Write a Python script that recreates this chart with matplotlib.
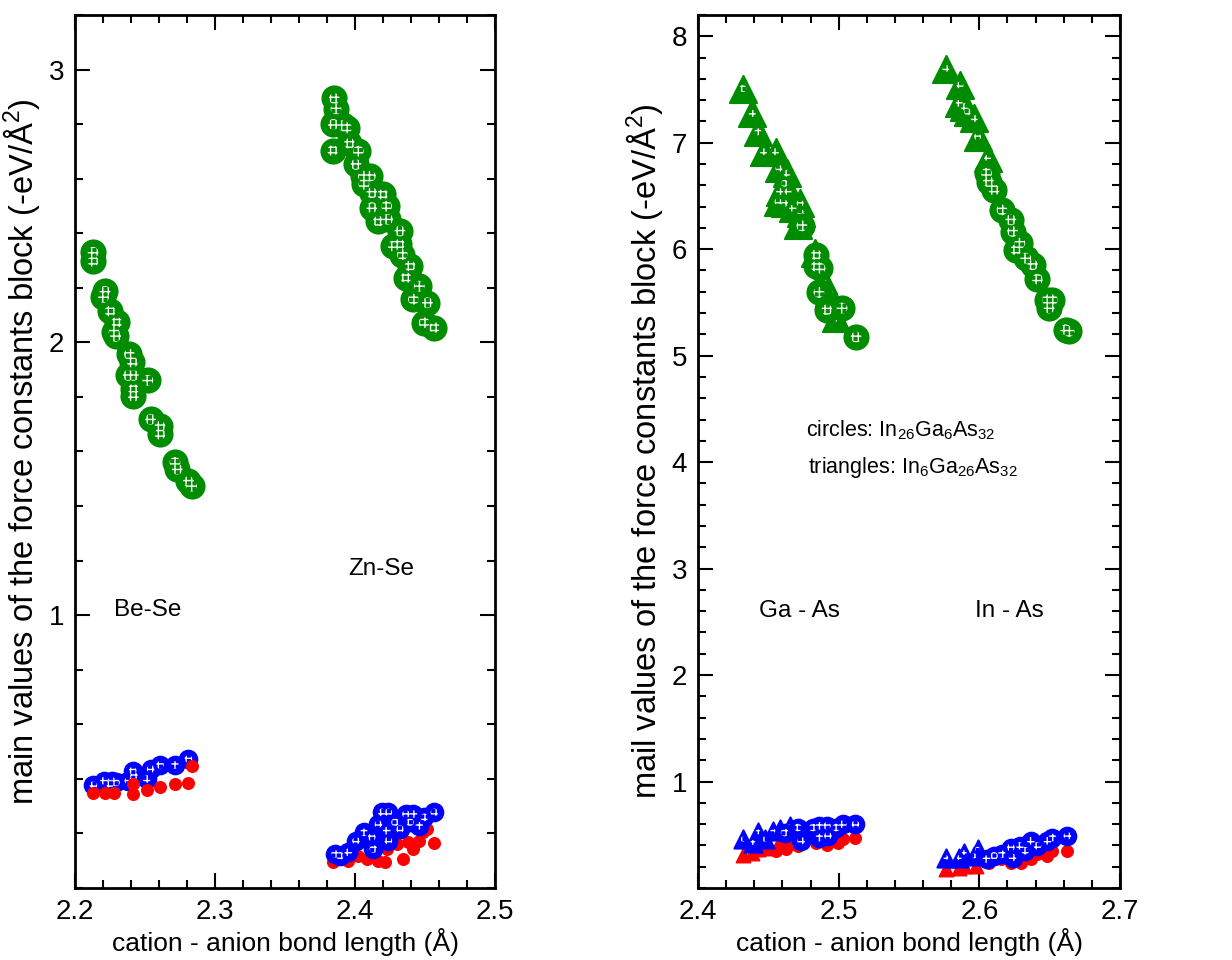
import numpy as np
import matplotlib
matplotlib.use('Agg')
import matplotlib.pyplot as plt
from matplotlib.ticker import MultipleLocator

plt.rcParams['font.family'] = ['Liberation Sans', 'DejaVu Sans']
plt.rcParams['mathtext.fontset'] = 'custom'
plt.rcParams['mathtext.rm'] = 'Liberation Sans'

GREEN = '#008c00'
BLUE = '#0000ff'
RED = '#ff0000'

# ---- left panel: Be-Se / Zn-Se ----
bese_green_x = [2.2129, 2.2129, 2.2214, 2.2203, 2.2250, 2.2298, 2.2279, 2.2290, 2.2388, 2.2410,
                2.2417, 2.2380, 2.2520, 2.2417, 2.2417, 2.2540, 2.2607, 2.2607, 2.2714, 2.2730,
                2.2810, 2.2833]
bese_green_y = [2.330, 2.297, 2.187, 2.165, 2.114, 2.073, 2.037, 2.022, 1.956, 1.927,
                1.879, 1.879, 1.861, 1.828, 1.802, 1.718, 1.692, 1.663, 1.560, 1.535,
                1.490, 1.473]
bese_blue_x = [2.2131, 2.2207, 2.2262, 2.2293, 2.2250, 2.2381, 2.2412, 2.2421, 2.2512, 2.2540,
               2.2607, 2.2714, 2.2810]
bese_blue_y = [0.377, 0.393, 0.393, 0.387, 0.381, 0.393, 0.430, 0.411, 0.399, 0.436,
               0.451, 0.451, 0.473]
bese_red_x = [2.2131, 2.2214, 2.2279, 2.2412, 2.2417, 2.2512, 2.2607, 2.2714, 2.2810, 2.2833]
bese_red_y = [0.350, 0.350, 0.350, 0.344, 0.381, 0.360, 0.369, 0.381, 0.385, 0.448]

znse_green_x = [2.3852, 2.3864, 2.3845, 2.3912, 2.3940, 2.3840, 2.3960, 2.4024, 2.4007, 2.4060,
                2.4110, 2.4064, 2.4120, 2.4198, 2.4120, 2.4226, 2.4167, 2.4233, 2.4321, 2.4274,
                2.4317, 2.4338, 2.4393, 2.4364, 2.4459, 2.4417, 2.4517, 2.4493, 2.4567]
znse_green_y = [2.894, 2.856, 2.799, 2.795, 2.786, 2.703, 2.729, 2.701, 2.652, 2.609,
                2.609, 2.579, 2.548, 2.542, 2.494, 2.499, 2.444, 2.451, 2.408, 2.353,
                2.359, 2.322, 2.280, 2.237, 2.206, 2.158, 2.145, 2.072, 2.054]
znse_blue_x = [2.3857, 2.3893, 2.3952, 2.4007, 2.4064, 2.4120, 2.4167, 2.4191, 2.4238, 2.4226,
               2.4286, 2.4321, 2.4364, 2.4417, 2.4393, 2.4459, 2.4495, 2.4567, 2.4238, 2.4131]
znse_blue_y = [0.125, 0.118, 0.131, 0.173, 0.204, 0.186, 0.234, 0.277, 0.277, 0.210,
               0.241, 0.216, 0.271, 0.271, 0.241, 0.228, 0.259, 0.277, 0.173, 0.143]
znse_red_x = [2.3845, 2.3905, 2.3952, 2.4024, 2.4083, 2.4131, 2.4167, 2.4226, 2.4214, 2.4298,
              2.4345, 2.4381, 2.4417, 2.4459, 2.4512, 2.4488, 2.4567]
znse_red_y = [0.094, 0.106, 0.100, 0.118, 0.106, 0.125, 0.100, 0.143, 0.094, 0.161,
              0.106, 0.167, 0.143, 0.173, 0.216, 0.204, 0.164]

# ---- right panel: Ga-As / In-As ----
# triangles: In6Ga26As32, circles: In26Ga6As32
tri_green_x = [2.4319, 2.4386, 2.4426, 2.4466, 2.4551, 2.4575, 2.4632, 2.4615, 2.4580, 2.4639,
               2.4568, 2.4615, 2.4674, 2.4726, 2.4733, 2.4710, 2.4835, 2.4887, 2.4934, 2.4982,
               2.5762, 2.5862, 2.5857, 2.5893, 2.5916, 2.5964, 2.5987, 2.6058]
tri_green_y = [7.509, 7.275, 7.103, 6.916, 6.916, 6.759, 6.713, 6.619, 6.541, 6.541,
               6.447, 6.431, 6.384, 6.431, 6.338, 6.228, 5.963, 5.713, 5.588, 5.353,
               7.697, 7.541, 7.369, 7.338, 7.291, 7.228, 7.056, 6.853]
circ_green_x = [2.4738, 2.4840, 2.4840, 2.4868, 2.4859, 2.4916, 2.5024, 2.5124,
                2.6051, 2.6065, 2.6105, 2.6160, 2.6224, 2.6236, 2.6288, 2.6259, 2.6378, 2.6330,
                2.6413, 2.6484, 2.6520, 2.6496, 2.6614, 2.6638]
circ_green_y = [6.219, 5.947, 5.838, 5.822, 5.594, 5.431, 5.447, 5.175,
                6.713, 6.634, 6.556, 6.369, 6.275, 6.166, 6.056, 5.994, 5.853, 5.916,
                5.719, 5.525, 5.525, 5.447, 5.244, 5.228]
tri_blue_x = [2.4319, 2.4390, 2.4426, 2.4473, 2.4532, 2.4580, 2.4651,
              2.5762, 2.5857, 2.5893, 2.5964, 2.5987]
tri_blue_y = [0.459, 0.427, 0.527, 0.459, 0.537, 0.552, 0.584,
              0.286, 0.286, 0.333, 0.302, 0.365]
circ_blue_x = [2.4615, 2.4710, 2.4733, 2.4816, 2.4863, 2.4863, 2.4916, 2.4923, 2.4982, 2.5029, 2.5119,
               2.6051, 2.6105, 2.6160, 2.6224, 2.6236, 2.6288, 2.6326, 2.6366, 2.6413, 2.6484,
               2.6520, 2.6626]
circ_blue_y = [0.521, 0.568, 0.443, 0.568, 0.584, 0.474, 0.584, 0.490, 0.568, 0.599, 0.599,
               0.271, 0.302, 0.318, 0.380, 0.286, 0.396, 0.349, 0.443, 0.396, 0.443,
               0.474, 0.490]
tri_red_x = [2.4319, 2.4386, 2.4426, 2.4473, 2.5762, 2.5857, 2.5893, 2.5976]
tri_red_y = [0.308, 0.333, 0.365, 0.380, 0.177, 0.192, 0.208, 0.208]
circ_red_x = [2.4556, 2.4580, 2.4627, 2.4651, 2.4710, 2.4840, 2.4916, 2.4994, 2.5029, 2.5119,
              2.6070, 2.6153, 2.6224, 2.6295, 2.6366, 2.6413, 2.6484, 2.6520, 2.6626]
circ_red_y = [0.349, 0.396, 0.365, 0.412, 0.396, 0.427, 0.402, 0.427, 0.459, 0.474,
              0.239, 0.271, 0.239, 0.239, 0.271, 0.318, 0.302, 0.349, 0.349]


def fancy(ax, x, y, color, marker, size, inner):
    # solid marker with a small white hatched spot in the middle
    ax.scatter(x, y, s=size, marker=marker, facecolor=color, edgecolor=color,
               linewidths=1.5, zorder=3)
    ax.scatter(x, y, s=inner, marker='o', facecolor=color, edgecolor='white',
               linewidths=0, hatch='+++', zorder=3)


def style_axes(ax, xlim, ylim, yminor):
    ax.set_xlim(*xlim)
    ax.set_ylim(*ylim)
    ax.xaxis.set_major_locator(MultipleLocator(0.1))
    ax.xaxis.set_minor_locator(MultipleLocator(0.02))
    ax.yaxis.set_minor_locator(MultipleLocator(yminor))
    ax.tick_params(which='both', direction='in', top=True, right=True, width=1.5,
                   labelsize=20, pad=8)
    ax.tick_params(which='major', length=11)
    ax.tick_params(which='minor', length=6)
    for sp in ax.spines.values():
        sp.set_linewidth(2)
    ax.set_xlabel('cation - anion bond length (Å)', fontsize=19, labelpad=2)


fig = plt.figure(figsize=(12.32, 9.6), dpi=100)
ax1 = fig.add_axes([0.0609, 0.075, 0.3409, 0.9094])
ax2 = fig.add_axes([0.5666, 0.075, 0.3425, 0.9094])

# left
fancy(ax1, bese_green_x, bese_green_y, GREEN, 'o', 300, 60)
fancy(ax1, znse_green_x, znse_green_y, GREEN, 'o', 300, 60)
fancy(ax1, bese_blue_x, bese_blue_y, BLUE, 'o', 160, 30)
fancy(ax1, znse_blue_x, znse_blue_y, BLUE, 'o', 160, 30)
ax1.scatter(bese_red_x, bese_red_y, s=70, color=RED, zorder=4)
ax1.scatter(znse_red_x, znse_red_y, s=70, color=RED, zorder=2)
style_axes(ax1, (2.2, 2.5), (0, 3.2), 0.2)
ax1.set_yticks([1, 2, 3])
ax1.set_ylabel('main values of the force constants block (-eV/$\\mathrm{\\AA}^2$)',
               fontsize=23.5, labelpad=4)
ax1.text(2.252, 1.02, 'Be-Se', fontsize=17.5, ha='center', va='center')
ax1.text(2.4186, 1.17, 'Zn-Se', fontsize=17.5, ha='center', va='center')

# right
ax2.scatter(tri_red_x, tri_red_y, s=110, marker='^', color=RED, zorder=2)
ax2.scatter(circ_red_x, circ_red_y, s=70, color=RED, zorder=2)
fancy(ax2, tri_blue_x, tri_blue_y, BLUE, '^', 170, 12)
fancy(ax2, circ_blue_x, circ_blue_y, BLUE, 'o', 160, 30)
fancy(ax2, tri_green_x, tri_green_y, GREEN, '^', 380, 25)
fancy(ax2, circ_green_x, circ_green_y, GREEN, 'o', 300, 60)
style_axes(ax2, (2.4, 2.7), (0, 8.2), 0.2)
ax2.set_yticks([1, 2, 3, 4, 5, 6, 7, 8])
ax2.set_ylabel('mail values of the force constants block (-eV/$\\mathrm{\\AA}^2$)',
               fontsize=23.5, labelpad=4)
ax2.text(2.472, 2.6, 'Ga - As', fontsize=17.5, ha='center', va='center')
ax2.text(2.621, 2.6, 'In - As', fontsize=17.5, ha='center', va='center')
ax2.text(2.544, 4.30, 'circles: In$_{26}$Ga$_6$As$_{32}$', fontsize=15.5, ha='center', va='center')
ax2.text(2.553, 3.95, 'triangles: In$_6$Ga$_{26}$As$_{32}$', fontsize=15.5, ha='center', va='center')

fig.savefig('out.png', dpi=100)
